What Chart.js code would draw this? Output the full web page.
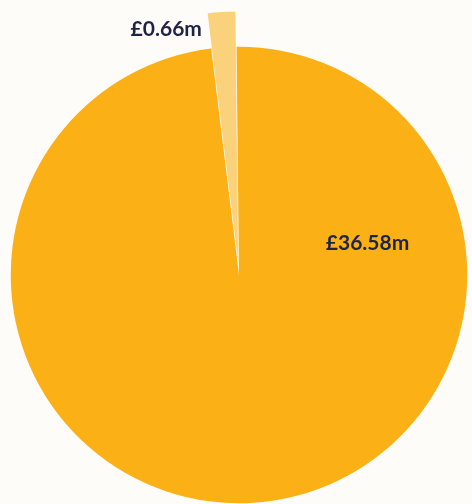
<!DOCTYPE html>
<html>
<head>
<meta charset="utf-8">
<script src="https://cdn.jsdelivr.net/npm/chart.js@4"></script>
<style>
  html, body { margin: 0; padding: 0; background: #fdfcf8; }
  #wrap { width: 472px; height: 504px; position: relative; }
</style>
</head>
<body>
<div id="wrap"><canvas id="grafico"></canvas></div>
<script>
// values in £m
const categories = ['Small', 'Main'];
const values = [0.66, 36.58];
const valueLabels = ['£0.66m', '£36.58m'];
const sliceColors = ['#fbd27c', '#fbb116'];

// where each label sits: angle (deg, canvas), distance as fraction of radius, alignment
const labelPlace = [
  { angle: -98.6, dist: 1.087, align: 'right' },
  { angle: -13.9, dist: 0.58, align: 'center' }
];

// the small slice sticks out past the rim
const pullOut = 36;

const sliceLabels = {
  id: 'sliceLabels',
  afterDatasetsUpdate(chart) {
    const arc = chart.getDatasetMeta(0).data[0];
    arc.outerRadius = arc.outerRadius + pullOut;
  },
  afterDatasetsDraw(chart) {
    const c = chart.ctx;
    const arcs = chart.getDatasetMeta(0).data;
    const r = arcs[1].outerRadius;
    c.save();
    c.fillStyle = '#1e2347';
    c.font = 'bold 21px Lato';
    c.textBaseline = 'middle';
    arcs.forEach((arc, i) => {
      const p = labelPlace[i];
      const a = p.angle * Math.PI / 180;
      c.textAlign = p.align;
      c.fillText(valueLabels[i], arc.x + Math.cos(a) * r * p.dist, arc.y + Math.sin(a) * r * p.dist);
    });
    c.restore();
  }
};

const ctx = document.getElementById('grafico');

new Chart(ctx, {
  type: 'pie',
  data: {
    labels: categories,
    datasets: [{
      data: values,
      backgroundColor: sliceColors,
      borderColor: ['#fdfcf8', sliceColors[1]],
      borderWidth: [1.5, 0]
    }]
  },
  options: {
    responsive: true,
    maintainAspectRatio: false,
    animation: false,
    rotation: -7,
    layout: { padding: { left: 10, right: 4, top: 46, bottom: 0 } },
    plugins: {
      legend: { display: false },
      tooltip: { enabled: false }
    }
  },
  plugins: [sliceLabels]
});
</script>
</body>
</html>
